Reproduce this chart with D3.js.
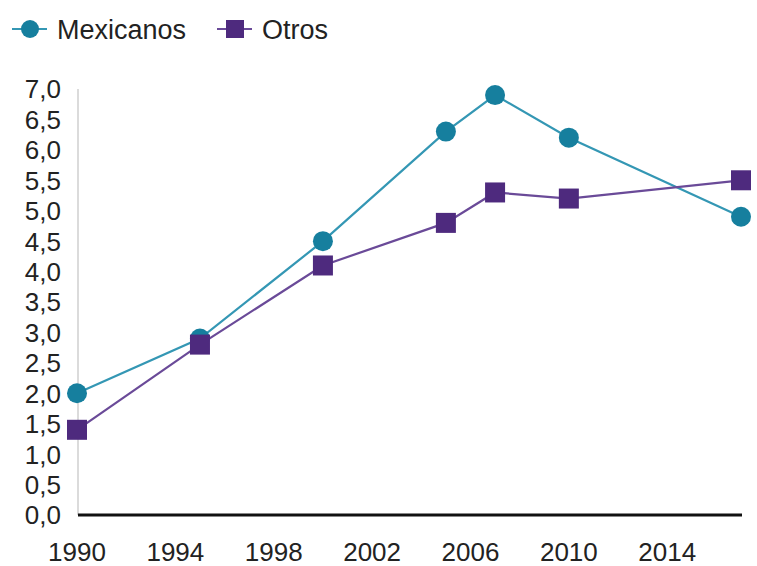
<!DOCTYPE html>
<html><head><meta charset="utf-8">
<script src="https://cdn.jsdelivr.net/npm/d3@7"></script>
<style>body{margin:0;background:#fff}svg{display:block;font-family:"Liberation Sans",Arial,sans-serif}</style>
</head><body>
<svg id="c" width="757" height="566"></svg>
<script>
const years = [1990, 1995, 2000, 2005, 2007, 2010, 2017];
const mexicanos = [2.0, 2.9, 4.5, 6.3, 6.9, 6.2, 4.9];
const otros = [1.4, 2.8, 4.1, 4.8, 5.3, 5.2, 5.5];
const xTicks = [1990, 1994, 1998, 2002, 2006, 2010, 2014];
const yTicks = [0, 0.5, 1, 1.5, 2, 2.5, 3, 3.5, 4, 4.5, 5, 5.5, 6, 6.5, 7];
const seriesNames = ["Mexicanos", "Otros"];
const colors = ["#167f9e", "#4e2a7e"];
const lineColors = ["#3497b4", "#6a4a98"];

const svg = d3.select("#c");
const x = d3.scaleLinear().domain([1990, 2017]).range([77, 741]);
const y = d3.scaleLinear().domain([0, 7]).range([515, 89]);
const fmt = d => d3.format(".1f")(d).replace(".", ",");

svg.append("line").attr("x1", 78).attr("x2", 78).attr("y1", 89).attr("y2", 515)
  .attr("stroke", "#cfcfcf").attr("stroke-width", 1.5);
svg.append("g").selectAll("text").data(yTicks).join("text")
  .attr("x", 61).attr("y", d => y(d)).attr("dy", "0.36em").attr("text-anchor", "end")
  .attr("font-size", 26).attr("fill", "#222").text(fmt);
svg.append("line").attr("x1", 78).attr("x2", 742).attr("y1", 515).attr("y2", 515)
  .attr("stroke", "#111").attr("stroke-width", 3);
svg.append("g").selectAll("text").data(xTicks).join("text")
  .attr("x", d => x(d)).attr("y", 552).attr("dy", "0.34em").attr("text-anchor", "middle")
  .attr("font-size", 26).attr("fill", "#222").text(d => d);

const data = [mexicanos, otros];
const line = d3.line().x((d, i) => x(years[i])).y(d => y(d));
data.forEach((vals, s) => {
  svg.append("path").datum(vals).attr("d", line).attr("fill", "none")
    .attr("stroke", lineColors[s]).attr("stroke-width", 2.2);
});
svg.append("g").selectAll("circle").data(mexicanos).join("circle")
  .attr("cx", (d, i) => x(years[i])).attr("cy", d => y(d)).attr("r", 10).attr("fill", colors[0]);
svg.append("g").selectAll("rect").data(otros).join("rect")
  .attr("x", (d, i) => x(years[i]) - 10).attr("y", d => y(d) - 10)
  .attr("width", 20).attr("height", 20).attr("fill", colors[1]);

const lg = svg.append("g");
lg.append("line").attr("x1", 12).attr("x2", 47).attr("y1", 29).attr("y2", 29).attr("stroke", lineColors[0]).attr("stroke-width", 2.2);
lg.append("circle").attr("cx", 30).attr("cy", 29).attr("r", 9).attr("fill", colors[0]);
lg.append("text").attr("x", 57).attr("y", 29).attr("dy", "0.36em").attr("font-size", 27).attr("fill", "#222").text(seriesNames[0]);
lg.append("line").attr("x1", 217).attr("x2", 252).attr("y1", 29).attr("y2", 29).attr("stroke", lineColors[1]).attr("stroke-width", 2.2);
lg.append("rect").attr("x", 226).attr("y", 20).attr("width", 18).attr("height", 18).attr("fill", colors[1]);
lg.append("text").attr("x", 262).attr("y", 29).attr("dy", "0.36em").attr("font-size", 27).attr("fill", "#222").text(seriesNames[1]);
</script>
</body></html>
